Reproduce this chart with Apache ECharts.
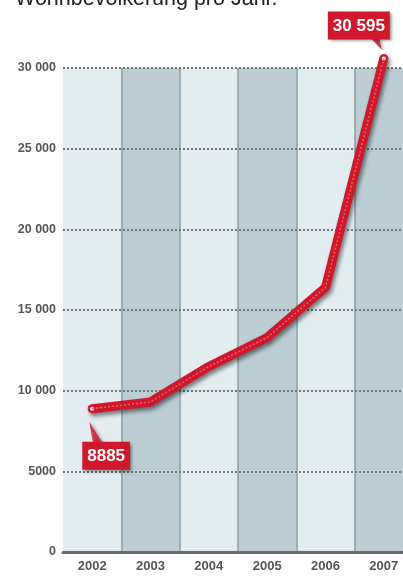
<!DOCTYPE html>
<html>
<head>
<meta charset="utf-8">
<script src="https://cdn.jsdelivr.net/npm/echarts@6/dist/echarts.min.js"></script>
<style>
  html, body { margin: 0; padding: 0; background: #fff; overflow: hidden; }
  #main { width: 413px; height: 576px; }
</style>
</head>
<body>
<div id="main"></div>
<script>
  var years = ['2002', '2003', '2004', '2005', '2006', '2007'];
  var population = [8885, 9300, 11500, 13300, 16400, 30595];
  var calloutText = ['8885', '30 595'];

  var labelFont = '"Liberation Sans", Arial, sans-serif';
  var red = '#d0182c';

  function fmt(v) {
    var s = String(v);
    if (v >= 10000) s = s.slice(0, s.length - 3) + ' ' + s.slice(-3);
    return s;
  }

  var last = population.length - 1;
  var lineData = population.map(function (v, i) {
    if (i === 0 || i === last) {
      return {
        value: v,
        symbol: 'circle',
        symbolSize: 4,
        itemStyle: { color: '#fff', borderWidth: 0 }
      };
    }
    return { value: v, symbol: 'none' };
  });

  var bubble = {
    backgroundColor: red,
    color: '#fff',
    fontFamily: labelFont,
    fontWeight: 'bold',
    fontSize: 17,
    padding: [6, 5, 5, 5],
    shadowColor: 'rgba(0,0,0,0.45)',
    shadowBlur: 3,
    shadowOffsetX: 2,
    shadowOffsetY: 2
  };
  lineData[0].label = Object.assign({
    show: true, position: 'bottom', offset: [14, 26], formatter: calloutText[0]
  }, bubble);
  lineData[last].label = Object.assign({
    show: true, position: 'top', offset: [-25, -12], formatter: calloutText[1]
  }, bubble);

  // little pointer tails of the two callouts
  var tails = [{
    value: [years[0], population[0]],
    symbol: 'path://M0,0 L4,22 L14,22 Z',
    symbolSize: [14, 22],
    symbolOffset: [4, 24]
  }, {
    value: [years[last], population[last]],
    symbol: 'path://M0,0 L9,0 L12,12 Z',
    symbolSize: [12, 13],
    symbolOffset: [-8, -15]
  }];

  var chart = echarts.init(document.getElementById('main'));

  var option = {
    animation: false,
    grid: { left: 63, right: 0, top: 68, bottom: 24 },
    graphic: [{
      type: 'text',
      x: 15,
      y: -12,
      style: { text: 'Wohnbevölkerung pro Jahr.', font: '21.5px "Liberation Sans", Arial, sans-serif', fill: '#222' }
    }],
    xAxis: {
      type: 'category',
      data: years,
      boundaryGap: true,
      z: 0,
      axisLine: { lineStyle: { color: '#666', width: 3 } },
      axisTick: { show: false },
      axisLabel: { color: '#555', fontFamily: labelFont, fontWeight: 'bold', fontSize: 13, margin: 8 },
      splitArea: { show: true, areaStyle: { color: ['#e3ecee', '#bccdd3'] } },
      splitLine: { show: true, showMinLine: false, lineStyle: { color: '#8d9ca1', width: 1.5 } }
    },
    yAxis: {
      type: 'value',
      min: 0,
      max: 30000,
      interval: 5000,
      z: 1,
      axisLine: { show: false },
      axisTick: { show: false },
      axisLabel: { color: '#555', fontFamily: labelFont, fontWeight: 'bold', fontSize: 12.5, margin: 7, formatter: fmt },
      splitLine: { lineStyle: { color: '#6f7578', width: 2, type: [2, 2] } }
    },
    series: [{
      type: 'scatter',
      data: tails,
      z: 2,
      clip: false,
      silent: true,
      itemStyle: {
        color: red,
        shadowColor: 'rgba(0,0,0,0.4)',
        shadowBlur: 3,
        shadowOffsetX: 2,
        shadowOffsetY: 1
      }
    }, {
      type: 'line',
      data: lineData,
      z: 3,
      clip: false,
      lineStyle: {
        color: red,
        width: 9,
        cap: 'round',
        join: 'round',
        shadowColor: 'rgba(0,0,0,0.5)',
        shadowBlur: 4,
        shadowOffsetX: 2,
        shadowOffsetY: 3
      },
      itemStyle: { color: '#fff' }
    }, {
      type: 'line',
      data: population,
      z: 4,
      clip: false,
      symbol: 'none',
      silent: true,
      lineStyle: { color: '#e8606a', width: 1.5, type: [2, 2] }
    }]
  };

  chart.setOption(option);
</script>
</body>
</html>
